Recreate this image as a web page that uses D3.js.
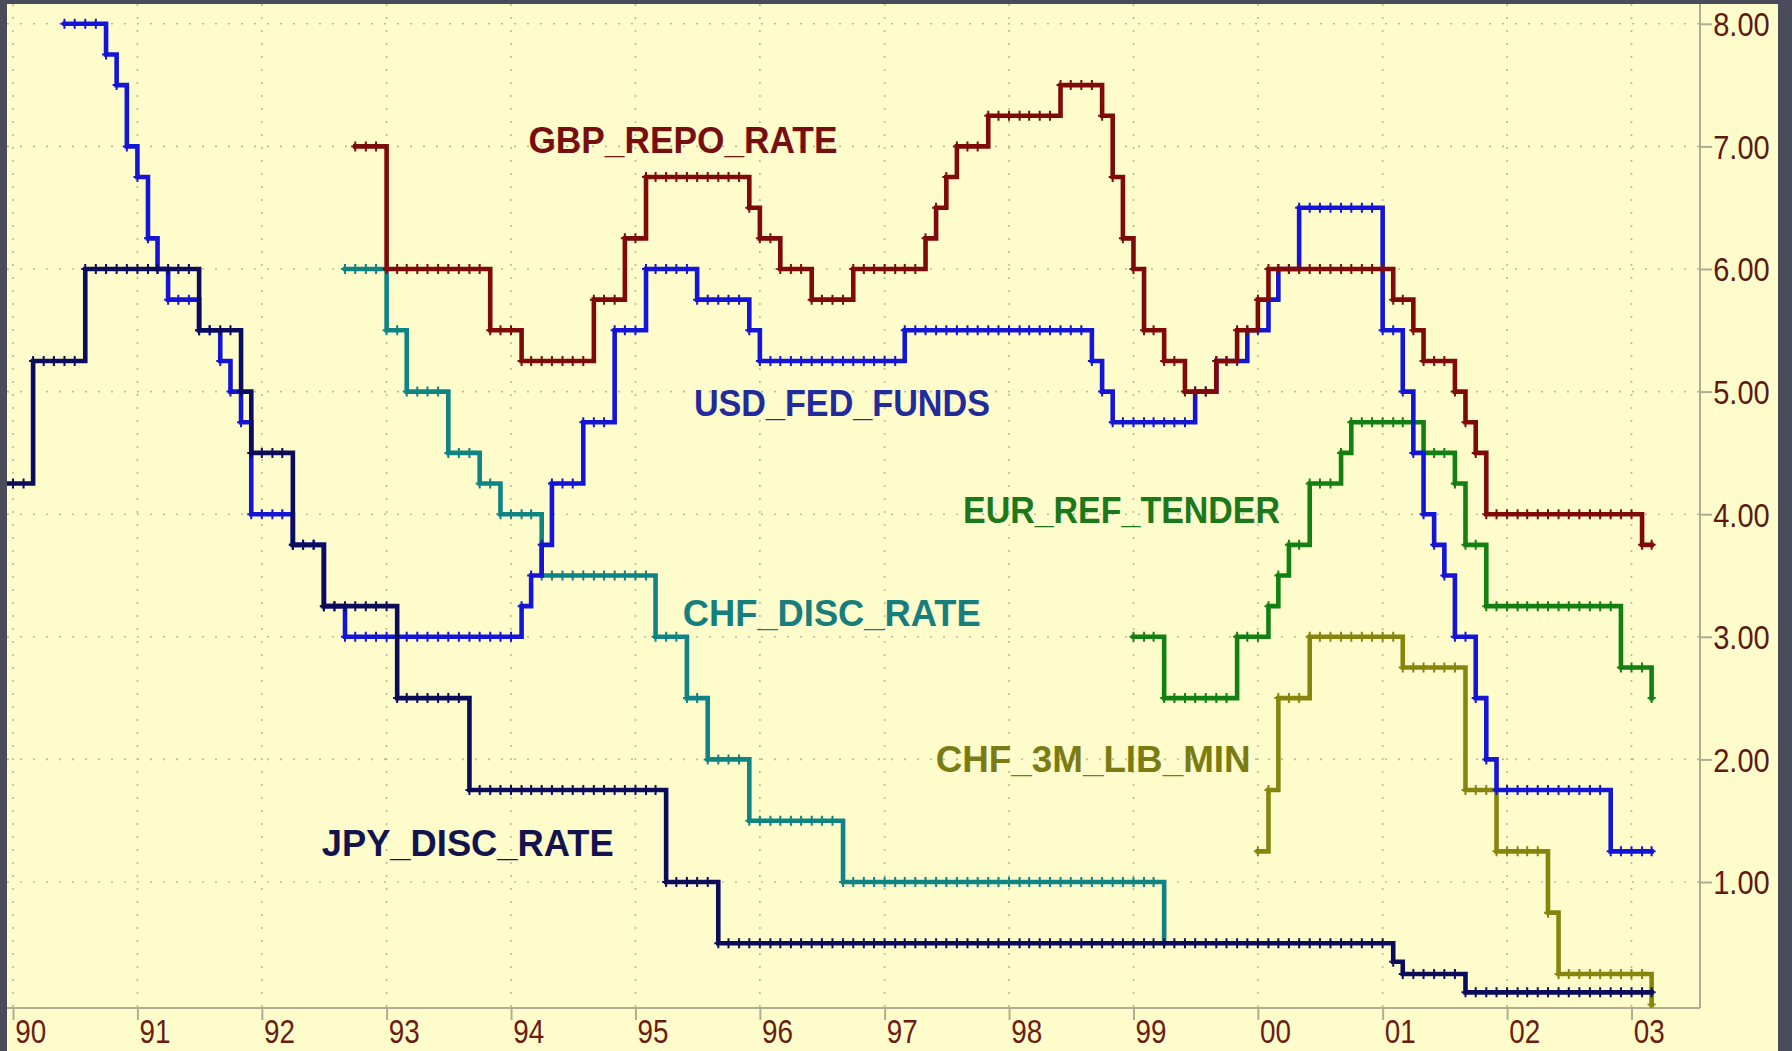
<!DOCTYPE html>
<html>
<head>
<meta charset="utf-8">
<script src="https://cdn.jsdelivr.net/npm/d3@7"></script>
<style>
  html, body { margin: 0; padding: 0; background: #4a4b5b; }
  svg { display: block; }
</style>
</head>
<body>
<div id="chart"></div>
<script>
var width = 1792;
var height = 1051;

// rate changes per series: month of change and the new level (%)
var jpyMonths = ["1989-12", "1990-03", "1990-08", "1991-07", "1991-11", "1991-12", "1992-04", "1992-07",
    "1993-02", "1993-09", "1995-04", "1995-09", "2001-02", "2001-03", "2001-09"];
var jpyRates = [4.25, 5.25, 6.0, 5.5, 5.0, 4.5, 3.75, 3.25, 2.5, 1.75, 1.0, 0.5, 0.35, 0.25, 0.1];

var usdMonths = ["1990-06", "1990-10", "1990-11", "1990-12", "1991-01", "1991-02", "1991-03", "1991-04",
    "1991-07", "1991-09", "1991-10", "1991-11", "1991-12", "1992-04", "1992-07", "1992-09",
    "1994-02", "1994-03", "1994-04", "1994-05", "1994-08", "1994-11", "1995-02", "1995-07",
    "1995-12", "1996-01", "1997-03", "1998-09", "1998-10", "1998-11", "1999-07", "1999-09",
    "1999-12", "2000-02", "2000-03", "2000-05", "2001-01", "2001-03", "2001-04", "2001-05",
    "2001-06", "2001-07", "2001-08", "2001-10", "2001-11", "2001-12", "2002-11"];
var usdRates = [8.0, 7.75, 7.5, 7.0, 6.75, 6.25, 6.0, 5.75,
    5.5, 5.25, 5.0, 4.75, 4.0, 3.75, 3.25, 3.0,
    3.25, 3.5, 3.75, 4.25, 4.75, 5.5, 6.0, 5.75,
    5.5, 5.25, 5.5, 5.25, 5.0, 4.75, 5.0, 5.25,
    5.5, 5.75, 6.0, 6.5, 5.5, 5.0, 4.5, 4.0,
    3.75, 3.5, 3.0, 2.5, 2.0, 1.75, 1.25];

var gbpMonths = ["1992-10", "1993-01", "1993-11", "1994-02", "1994-09", "1994-12", "1995-02", "1995-12",
    "1996-01", "1996-03", "1996-06", "1996-10", "1997-05", "1997-06", "1997-07", "1997-08",
    "1997-11", "1998-06", "1998-10", "1998-11", "1998-12", "1999-01", "1999-02", "1999-04",
    "1999-06", "1999-09", "1999-11", "2000-01", "2000-02", "2001-02", "2001-04", "2001-05",
    "2001-08", "2001-09", "2001-10", "2001-11", "2003-02"];
var gbpRates = [7.0, 6.0, 5.5, 5.25, 5.75, 6.25, 6.75, 6.5,
    6.25, 6.0, 5.75, 6.0, 6.25, 6.5, 6.75, 7.0,
    7.25, 7.5, 7.25, 6.75, 6.25, 6.0, 5.5, 5.25,
    5.0, 5.25, 5.5, 5.75, 6.0, 5.75, 5.5, 5.25,
    5.0, 4.75, 4.5, 4.0, 3.75];

var chfDiscMonths = ["1992-09", "1993-01", "1993-03", "1993-07", "1993-10", "1993-12", "1994-04", "1995-03",
    "1995-06", "1995-08", "1995-12", "1996-09", "1999-04"];
var chfDiscRates = [6.0, 5.5, 5.0, 4.5, 4.25, 4.0, 3.5, 3.0, 2.5, 2.0, 1.5, 1.0, 0.5];

var eurMonths = ["1999-01", "1999-04", "1999-11", "2000-02", "2000-03", "2000-04", "2000-06", "2000-09",
    "2000-10", "2001-05", "2001-08", "2001-09", "2001-11", "2002-12", "2003-03"];
var eurRates = [3.0, 2.5, 3.0, 3.25, 3.5, 3.75, 4.25, 4.5, 4.75, 4.5, 4.25, 3.75, 3.25, 2.75, 2.5];

var chf3mMonths = ["2000-01", "2000-02", "2000-03", "2000-06", "2001-03", "2001-09", "2001-12", "2002-05",
    "2002-06", "2003-03"];
var chf3mRates = [1.25, 1.75, 2.5, 3.0, 2.75, 1.75, 1.25, 0.75, 0.25, 0.0];

var yearTicks = ["90", "91", "92", "93", "94", "95", "96", "97", "98", "99", "00", "01", "02", "03"];
var rateTicks = [1, 2, 3, 4, 5, 6, 7, 8];

var parseMonth = d3.timeParse("%Y-%m");

var series = [
    {name: "CHF_3M_LIB_MIN", months: chf3mMonths, rates: chf3mRates, end: "2003-03", line: "#86860e", text: "#7b7b14"},
    {name: "EUR_REF_TENDER", months: eurMonths, rates: eurRates, end: "2003-03", line: "#128012", text: "#1b781b"},
    {name: "CHF_DISC_RATE", months: chfDiscMonths, rates: chfDiscRates, end: "1999-04", line: "#0e8484", text: "#177e7e"},
    {name: "USD_FED_FUNDS", months: usdMonths, rates: usdRates, end: "2003-03", line: "#1515d6", text: "#222b9a"},
    {name: "JPY_DISC_RATE", months: jpyMonths, rates: jpyRates, end: "2003-03", line: "#0c0c5c", text: "#13144e"},
    {name: "GBP_REPO_RATE", months: gbpMonths, rates: gbpRates, end: "2003-03", line: "#7e0a0a", text: "#761010"}
];

// where each series name sits: decimal year of left edge, rate at baseline, text width
var labelSpots = {
    "GBP_REPO_RATE": [1994.14, 6.95, 309],
    "USD_FED_FUNDS": [1995.47, 4.80, 296],
    "EUR_REF_TENDER": [1997.63, 3.93, 317],
    "CHF_DISC_RATE": [1995.38, 3.09, 298],
    "CHF_3M_LIB_MIN": [1997.41, 1.90, 315],
    "JPY_DISC_RATE": [1992.48, 1.21, 292]
};

var plot = {left: 7, top: 4, right: 1778, axisX: 1700, axisY: 1008};

var svg = d3.select("#chart")
    .append("svg")
    .attr("width", width)
    .attr("height", height)
    .attr("viewBox", "0 0 " + width + " " + height);

var x = d3.scaleTime()
    .domain([new Date(1990, 0, 1), new Date(2003, 0, 1)])
    .range([13, 1631.5]);

var y = d3.scaleLinear()
    .domain([0, 8])
    .range([1004.6, 23.8]);

function yearDate(yr) {
    var y0 = Math.floor(yr);
    var a = new Date(y0, 0, 1), b = new Date(y0 + 1, 0, 1);
    return new Date(+a + (yr - y0) * (b - a));
}

svg.append("rect")
    .attr("width", width).attr("height", height)
    .attr("fill", "#4a4b5b");

svg.append("rect")
    .attr("x", plot.left).attr("y", plot.top)
    .attr("width", plot.right - plot.left).attr("height", height - plot.top)
    .attr("fill", "#fffccb");

svg.append("clipPath").attr("id", "clip")
    .append("rect")
    .attr("x", plot.left).attr("y", plot.top)
    .attr("width", plot.axisX - plot.left).attr("height", plot.axisY - plot.top);

// dotted grid
var tickDates = x.ticks(d3.timeYear.every(1));
var grid = svg.append("g")
    .attr("stroke", "#bdb99a")
    .attr("stroke-width", 1.6)
    .attr("stroke-dasharray", "2,11");

grid.selectAll("line.v")
    .data(tickDates)
    .enter().append("line")
    .attr("class", "v")
    .attr("x1", d => x(d)).attr("x2", d => x(d))
    .attr("y1", plot.top).attr("y2", plot.axisY);

grid.selectAll("line.h")
    .data(rateTicks)
    .enter().append("line")
    .attr("class", "h")
    .attr("x1", plot.left).attr("x2", plot.axisX)
    .attr("y1", d => y(d)).attr("y2", d => y(d));

// axes
var labelFont = '"Liberation Sans", Arial, sans-serif';

svg.append("line")
    .attr("x1", plot.left).attr("x2", plot.axisX)
    .attr("y1", plot.axisY).attr("y2", plot.axisY)
    .attr("stroke", "#b1ad92").attr("stroke-width", 2);

svg.append("line")
    .attr("x1", plot.axisX).attr("x2", plot.axisX)
    .attr("y1", plot.top).attr("y2", plot.axisY)
    .attr("stroke", "#aeab98").attr("stroke-width", 2);

var xAxis = svg.append("g")
    .attr("transform", "translate(0," + plot.axisY + ")")
    .call(d3.axisBottom(x)
        .tickValues(tickDates)
        .tickFormat((d, i) => yearTicks[i])
        .tickSize(12));
xAxis.select(".domain").remove();
xAxis.selectAll(".tick line").attr("stroke", "#b1ad92").attr("stroke-width", 2);
// narrow digits, as in the original
xAxis.selectAll(".tick text")
    .attr("text-anchor", "start")
    .attr("transform", "scale(0.82,1)")
    .attr("x", 2)
    .attr("y", 35)
    .attr("dy", null)
    .attr("fill", "#6c1d12")
    .style("font-family", labelFont)
    .style("font-size", "34px");

var yAxis = svg.append("g")
    .attr("transform", "translate(" + plot.axisX + ",0)")
    .call(d3.axisRight(y)
        .tickValues(rateTicks)
        .tickFormat(d3.format(".2f"))
        .tickSize(12));
yAxis.select(".domain").remove();
yAxis.selectAll(".tick line").attr("stroke", "#aeab98").attr("stroke-width", 2);
yAxis.selectAll(".tick text")
    .attr("transform", "scale(0.88,1)")
    .attr("x", 15)
    .attr("dy", "0.36em")
    .attr("fill", "#5e1a10")
    .style("font-family", labelFont)
    .style("font-size", "33px");

// step lines with a cross on every monthly point
var line = d3.line()
    .x(d => x(d.date))
    .y(d => y(d.v))
    .curve(d3.curveStepAfter);

var layer = svg.append("g").attr("clip-path", "url(#clip)");

series.forEach(function (s) {
    var dates = s.months.map(parseMonth);
    var pts = dates.map((d, i) => ({date: d, v: s.rates[i]}));
    var endDate = parseMonth(s.end);
    if (endDate > dates[dates.length - 1]) {
        pts.push({date: endDate, v: s.rates[s.rates.length - 1]});
    }

    var months = d3.timeMonth.range(dates[0], d3.timeMonth.offset(endDate, 1));
    var marks = months.map(function (m) {
        var i = d3.bisectRight(dates, m) - 1;
        return {date: m, v: s.rates[i]};
    });

    var g = layer.append("g");
    g.append("path")
        .datum(pts)
        .attr("d", line)
        .attr("fill", "none")
        .attr("stroke", s.line)
        .attr("stroke-width", 4.6)
        .attr("stroke-linejoin", "miter")
        .attr("stroke-linecap", "square");

    g.selectAll("path.mark")
        .data(marks)
        .enter().append("path")
        .attr("class", "mark")
        .attr("d", "M-4,0h8M0,-5v10")
        .attr("transform", d => "translate(" + x(d.date) + "," + y(d.v) + ")")
        .attr("stroke", s.line)
        .attr("stroke-width", 2);
});

// series names
svg.append("g")
    .selectAll("text")
    .data(series)
    .enter().append("text")
    .attr("x", d => x(yearDate(labelSpots[d.name][0])))
    .attr("y", d => y(labelSpots[d.name][1]))
    .attr("textLength", d => labelSpots[d.name][2])
    .attr("lengthAdjust", "spacingAndGlyphs")
    .attr("fill", d => d.text)
    .style("font-family", labelFont)
    .style("font-weight", "bold")
    .style("font-size", "37px")
    .text(d => d.name);
</script>
</body>
</html>
